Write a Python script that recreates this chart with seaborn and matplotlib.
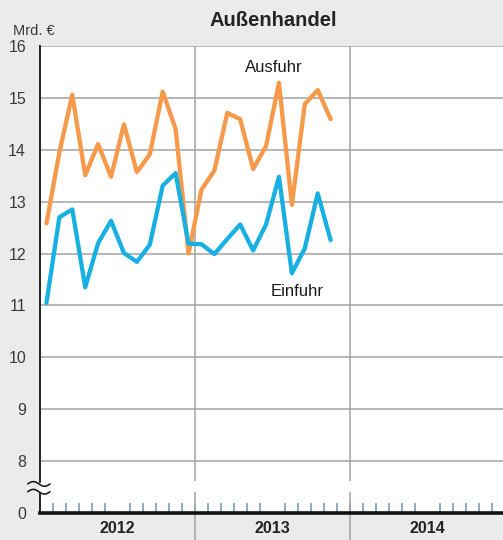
import numpy as np
import pandas as pd
import matplotlib
matplotlib.use("Agg")
import matplotlib.pyplot as plt
import seaborn as sns

# Monthly foreign trade of goods, billion euro (Jan 2012 - Nov 2013)
months = pd.period_range("2012-01", periods=23, freq="M").astype(str).tolist()
ausfuhr = [12.58, 13.95, 15.06, 13.51, 14.11, 13.48, 14.49, 13.57, 13.91, 15.12, 14.40, 12.00,
           13.23, 13.60, 14.71, 14.59, 13.63, 14.07, 15.29, 12.94, 14.88, 15.15, 14.59]
einfuhr = [11.05, 12.70, 12.85, 11.35, 12.20, 12.63, 12.01, 11.84, 12.17, 13.31, 13.55, 12.19,
           12.18, 11.99, 12.28, 12.56, 12.06, 12.56, 13.48, 11.62, 12.10, 13.16, 12.26]
years = ["2012", "2013", "2014"]
y_ticks = [8, 9, 10, 11, 12, 13, 14, 15, 16]

ORANGE = "#f7994a"
BLUE = "#18b0e2"
GRID = "#a3a3a3"
BG = "#ebebec"

sns.set_theme(style="white")
plt.rcParams["font.family"] = ["Liberation Sans", "DejaVu Sans"]

df = pd.DataFrame({
    "pos": np.arange(len(months)) + 0.5,
    "Ausfuhr": ausfuhr,
    "Einfuhr": einfuhr,
}).melt(id_vars="pos", var_name="reihe", value_name="wert")

W, H = 503, 540
fig = plt.figure(figsize=(W / 100, H / 100), dpi=100, facecolor=BG)
left_px, top_px, bottom_px, right_px = 40, 46, 513, 505
ax = fig.add_axes([left_px / W, (H - bottom_px) / H,
                   (right_px - left_px) / W, (bottom_px - top_px) / H])
ax.set_facecolor("white")

# axis break: the value 0 sits one unit below 8
ZERO = 7
ax.set_ylim(ZERO, 16)
ax.set_xlim(0, 36)

# horizontal grid
for v in y_ticks:
    ax.axhline(v, color=GRID, lw=1.1, zorder=1)

# year separators, extended into the label band with a gap at the axis break
for xb in (12, 24):
    ax.plot([xb, xb], [16, 7.61], color=GRID, lw=1.1, zorder=1, solid_capstyle="butt")
    ax.plot([xb, xb], [7.41, 6.47], color=GRID, lw=1.1, zorder=1,
            clip_on=False, solid_capstyle="butt")

sns.lineplot(data=df, x="pos", y="wert", hue="reihe",
             palette={"Ausfuhr": ORANGE, "Einfuhr": BLUE},
             linewidth=3.1, legend=False, ax=ax, zorder=3)

ax.text(18.1, 15.58, "Ausfuhr", ha="center", va="center", fontsize=12, color="#1a1a1a")
ax.text(19.9, 11.26, "Einfuhr", ha="center", va="center", fontsize=12, color="#1a1a1a")

# y axis
ax.set_yticks([ZERO] + y_ticks)
ax.set_yticklabels(["0"] + [str(v) for v in y_ticks])
ax.tick_params(axis="y", which="major", direction="out", length=7, width=1,
               color=GRID, labelsize=11.5, labelcolor="#3a3a3a", pad=3)

# x axis: month ticks and year labels
ax.set_xticks(np.arange(1, 36), minor=True)
ax.set_xticks([6, 18, 30])
ax.set_xticklabels(years, fontweight="bold", fontsize=11.5, color="#222222")
ax.tick_params(axis="x", which="minor", direction="in", length=7, width=1.2,
               color="#7d9fb0", bottom=True)
ax.tick_params(axis="x", which="major", length=0, pad=6)
ax.set_xlabel("")
ax.set_ylabel("")

for s in ("top", "right"):
    ax.spines[s].set_visible(False)
ax.spines["left"].set_color("#222222")
ax.spines["left"].set_linewidth(1.4)
ax.spines["bottom"].set_color("#111111")
ax.spines["bottom"].set_linewidth(2.6)

# break marks on the value axis
xs = np.linspace(-0.95, 0.78, 60)
wave = 0.045 * np.sin((xs + 0.95) / 1.73 * 2 * np.pi)
ax.fill_between(xs[(xs > -0.1) & (xs < 0.1)], 7.43, 7.58, color="white",
                zorder=4, clip_on=False)
for yc in (7.56, 7.41):
    ax.plot(xs, yc + wave, color="#111111", lw=1.1, clip_on=False, zorder=5)

fig.text(273 / W, 1 - 20 / H, "Außenhandel", ha="center", va="center",
         fontsize=14.5, fontweight="bold", color="#222222")
fig.text(13 / W, 1 - 31 / H, "Mrd. €", ha="left", va="center",
         fontsize=10.5, color="#3a3a3a")

fig.savefig("out.png", dpi=100, facecolor=BG)
